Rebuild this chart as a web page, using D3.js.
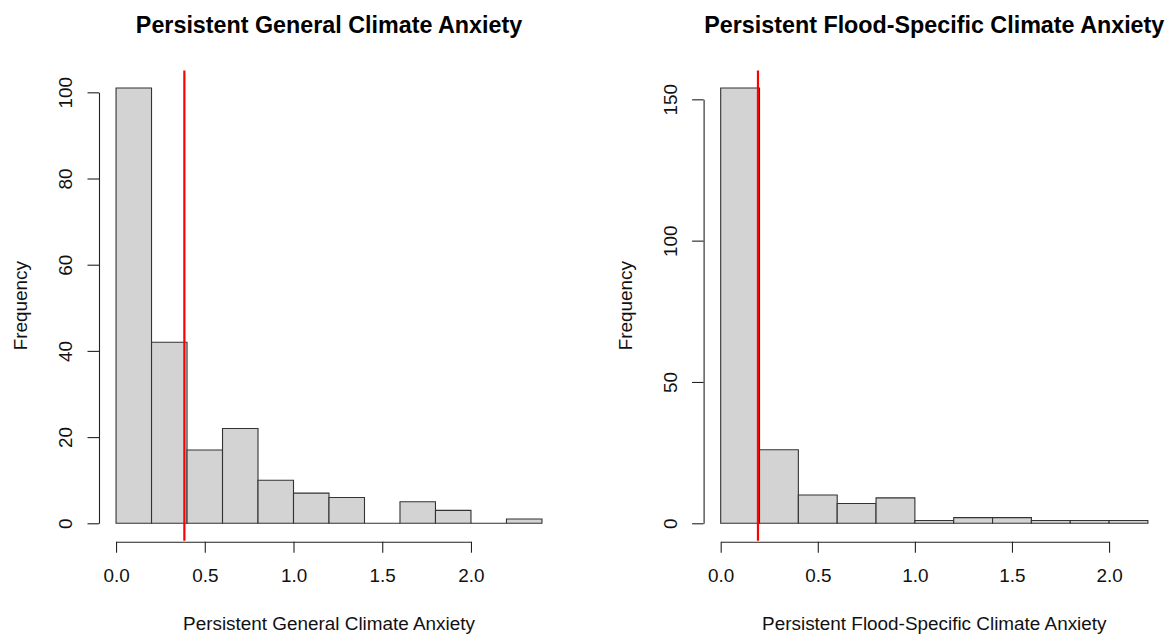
<!DOCTYPE html>
<html>
<head>
<meta charset="utf-8">
<script src="https://cdn.jsdelivr.net/npm/d3@7"></script>
<style>
  body { margin: 0; background: #fff; }
  svg { display: block; font-family: "Liberation Sans", Arial, sans-serif; }
</style>
</head>
<body>
<svg width="1170" height="634"></svg>
<script>
// ---- data ----
const generalBins = [0, 0.2, 0.4, 0.6, 0.8, 1.0, 1.2, 1.4, 1.6, 1.8, 2.0, 2.2, 2.4];
const generalCounts = [101, 42, 17, 22, 10, 7, 6, 0, 5, 3, 0, 1];
const generalMean = 0.385;
const generalYTicks = [0, 20, 40, 60, 80, 100];

const floodBins = [0, 0.2, 0.4, 0.6, 0.8, 1.0, 1.2, 1.4, 1.6, 1.8, 2.0, 2.2];
const floodCounts = [154, 26, 10, 7, 9, 1, 2, 2, 1, 1, 1];
const floodMean = 0.192;
const floodYTicks = [0, 50, 100, 150];

const xTicks = [0, 0.5, 1.0, 1.5, 2.0];

const panels = [
  {
    title: "Persistent General Climate Anxiety",
    xlab: "Persistent General Climate Anxiety",
    bins: generalBins, counts: generalCounts, mean: generalMean, yTicks: generalYTicks,
    left: 99, right: 559
  },
  {
    title: "Persistent Flood-Specific Climate Anxiety",
    xlab: "Persistent Flood-Specific Climate Anxiety",
    bins: floodBins, counts: floodCounts, mean: floodMean, yTicks: floodYTicks,
    left: 703.6, right: 1165
  }
];

const svg = d3.select("svg");
const TOP = 70.6, BOTTOM = 540.7;
const FONT = 18.9;
const INK = "#222";

// R style 4% axis padding
const padded = ([a, b]) => { const d = (b - a) * 0.04; return [a - d, b + d]; };

panels.forEach(p => {
  const g = svg.append("g");
  const xmax = p.bins[p.bins.length - 1];
  const ymax = d3.max(p.counts);

  const x = d3.scaleLinear().domain(padded([0, xmax])).range([p.left, p.right]);
  const y = d3.scaleLinear().domain(padded([0, ymax])).range([BOTTOM, TOP]);

  const data = p.counts.map((c, i) => ({ x0: p.bins[i], x1: p.bins[i + 1], n: c }));

  // bars as closed paths so empty bins still show their flat outline
  g.selectAll("path.bar")
    .data(data)
    .enter()
    .append("path")
    .attr("class", "bar")
    .attr("d", d => `M${x(d.x0)},${y(0)}V${y(d.n)}H${x(d.x1)}V${y(0)}Z`)
    .attr("fill", "#d3d3d3")
    .attr("stroke", "#333")
    .attr("stroke-width", 1.1);

  // mean line
  g.append("line")
    .attr("x1", x(p.mean)).attr("x2", x(p.mean))
    .attr("y1", TOP).attr("y2", BOTTOM)
    .attr("stroke", "#ff0000")
    .attr("stroke-width", 2.2);

  // x axis (only spans the pretty ticks, like R)
  const xa = x.copy().domain([xTicks[0], xTicks[xTicks.length - 1]])
    .range([x(xTicks[0]), x(xTicks[xTicks.length - 1])]);
  const xAxis = g.append("g")
    .attr("transform", `translate(0,${BOTTOM + 1})`)
    .call(d3.axisBottom(xa).tickValues(xTicks).tickSize(11).tickSizeOuter(0)
      .tickPadding(16).tickFormat(d3.format(".1f")));

  // y axis
  const ya = y.copy().domain([0, d3.max(p.yTicks)]).range([y(0), y(d3.max(p.yTicks))]);
  const yAxis = g.append("g")
    .attr("transform", `translate(${p.left},0)`)
    .call(d3.axisLeft(ya).tickValues(p.yTicks).tickSize(11.5).tickSizeOuter(0));
  yAxis.selectAll("text")
    .attr("x", null).attr("dy", null)
    .attr("text-anchor", "middle")
    .attr("transform", "translate(-27,0) rotate(-90)");

  [xAxis, yAxis].forEach(a => {
    a.select(".domain").attr("stroke", INK).attr("stroke-width", 1.1);
    a.selectAll(".tick line").attr("stroke", INK).attr("stroke-width", 1.1);
    a.selectAll("text").attr("font-size", FONT).attr("fill", "#111")
      .attr("font-family", "Liberation Sans, Arial, sans-serif");
  });

  const cx = (p.left + p.right) / 2;

  // title
  g.append("text")
    .attr("x", cx).attr("y", 33)
    .attr("text-anchor", "middle")
    .attr("font-size", 23.3)
    .attr("font-weight", "bold")
    .attr("fill", "#000")
    .text(p.title);

  // x label
  g.append("text")
    .attr("x", cx).attr("y", 630)
    .attr("text-anchor", "middle")
    .attr("font-size", FONT)
    .attr("fill", "#111")
    .text(p.xlab);

  // y label
  g.append("text")
    .attr("transform", `translate(${p.left - 72},${(TOP + BOTTOM) / 2}) rotate(-90)`)
    .attr("text-anchor", "middle")
    .attr("font-size", FONT)
    .attr("fill", "#111")
    .text("Frequency");
});
</script>
</body>
</html>
